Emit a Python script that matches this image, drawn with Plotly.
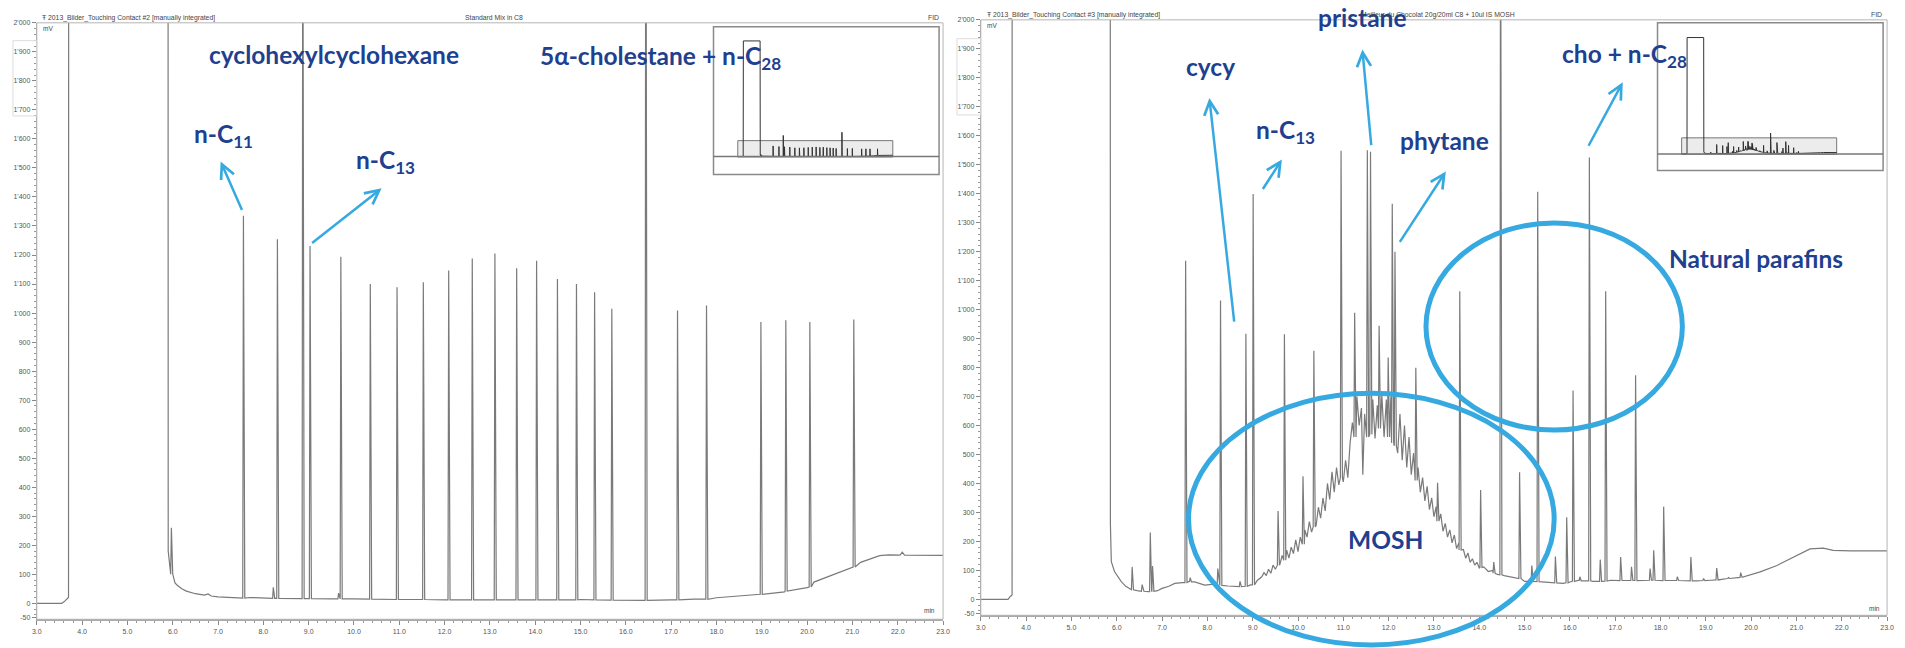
import plotly.graph_objects as go

# ---------------- DATA ----------------
# Left panel: "Standard Mix in C8" -- baseline knots (min, mV)
std_base_t = [3.00, 3.55, 3.60, 3.66, 3.70, 3.72, 5.88, 5.90, 5.93, 5.95, 6.00, 6.05, 6.10, 6.20,
              6.30, 6.50, 6.70, 6.78, 6.85, 7.00, 7.30, 7.50, 7.70, 8.00, 8.50, 9.00, 9.50, 10.0,
              11.0, 12.0, 13.0, 14.0, 15.0, 16.0, 17.0, 17.5, 18.0, 18.5, 19.0, 19.5, 20.0, 20.15,
              20.5, 21.0, 21.18, 21.4, 21.6, 21.8, 22.05, 22.1, 22.15, 23.0]
std_base_v = [0, 0, 5, 15, 20, 14500, 14500, 180, 120, 100, 85, 70, 62, 50,
              42, 33, 28, 32, 25, 22, 20, 18, 20, 18, 17, 16, 15, 15,
              13, 12, 12, 13, 13, 11, 12, 14, 19, 24, 31, 39, 54, 73,
              93, 122, 141, 152, 164, 167, 166, 176, 166, 165]
# Left panel peaks: retention time, apex height, foot level
std_peak_t = [5.97, 7.56, 8.22, 8.31, 8.87, 9.03, 9.66, 9.71, 10.36, 10.95, 11.53, 12.09, 12.61,
              13.11, 13.59, 14.03, 14.49, 14.91, 15.31, 15.69, 16.44, 17.14, 17.78, 18.98, 19.53,
              20.06, 21.03]
std_peak_h = [260, 1335, 55, 1254, 2650, 1231, 35, 1194, 1100, 1089, 1106, 1147, 1188,
              1205, 1154, 1180, 1117, 1100, 1072, 1015, 3050, 1009, 1026, 969, 975,
              969, 978]
std_peak_b = [100, 18, 17, 17, 16, 16, 15, 15, 14, 13, 13, 12, 12,
              12, 12, 12, 12, 12, 12, 11, 10, 12, 14, 31, 42,
              56, 125]

# Right panel: "Meilleur du Chocolat ... IS MOSH" -- baseline knots incl. MOSH hump
choc_base_t = [3.00, 3.60, 3.65, 3.69, 3.70, 5.84, 5.86, 5.88, 5.95, 6.10, 6.20, 6.32, 6.45, 6.60,
               6.70, 6.90, 7.00, 7.15, 7.28, 7.45, 7.60, 7.72, 7.85, 7.94, 8.10, 8.20, 8.45, 8.60,
               8.74, 8.95, 9.10,
               9.20, 9.25, 9.30, 9.35, 9.40, 9.45, 9.50, 9.55, 9.60, 9.65, 9.70, 9.75, 9.80, 9.85,
               9.90, 9.95, 10.00, 10.05, 10.10, 10.15, 10.20, 10.25, 10.30, 10.35, 10.40, 10.45,
               10.50, 10.55, 10.60, 10.65, 10.70, 10.75, 10.80, 10.85, 10.90, 10.95, 11.00, 11.05,
               11.10, 11.15, 11.20, 11.25, 11.30, 11.35, 11.40, 11.43, 11.47, 11.50, 11.55, 11.60,
               11.65, 11.70, 11.75, 11.80, 11.85, 11.90, 11.95, 12.00, 12.05, 12.10, 12.15, 12.20,
               12.25, 12.30, 12.35, 12.40, 12.45, 12.50, 12.55, 12.60, 12.65, 12.70, 12.75, 12.80,
               12.85, 12.90, 12.95, 13.00, 13.05, 13.10, 13.15, 13.20, 13.25, 13.30, 13.35, 13.40,
               13.45, 13.50, 13.55, 13.60, 13.65, 13.70, 13.75, 13.80, 13.85, 13.90, 13.95, 14.00,
               14.10, 14.20, 14.30, 14.40, 14.55, 14.70, 14.85, 15.00,
               15.10, 15.40, 15.60, 15.85, 16.00, 16.20, 16.50, 16.90, 17.30, 17.65, 18.00, 18.38,
               18.80, 19.11, 19.48, 19.84, 20.20, 20.57, 20.93, 21.30, 21.59, 21.81, 22.20, 23.00]
choc_base_v = [0, 0, 10, 15, 14500, 14500, 260, 130, 96, 61, 45, 35, 30, 28,
               27, 30, 38, 45, 55, 58, 62, 60, 55, 49, 52, 48, 46, 44,
               44, 50, 65,
               78, 92, 82, 104, 90, 118, 104, 132, 120, 152, 130, 170, 142, 180,
               158, 205, 165, 215, 195, 240, 215, 268, 232, 280, 255, 318,
               280, 350, 305, 400, 345, 440, 370, 455, 395, 470, 405, 480,
               420, 540, 610, 560, 700, 600, 660, 430, 640, 560, 700, 570,
               690, 555, 670, 590, 705, 560, 690, 550, 700, 520, 660, 505,
               640, 480, 600, 455, 560, 430, 505, 400, 455, 370, 420, 340,
               390, 310, 350, 285, 320, 262, 295, 235, 262, 215, 240, 195,
               222, 175, 195, 158, 172, 142, 160, 128, 140, 118, 128, 108,
               112, 96, 100, 86, 82, 77, 72, 62,
               62, 60, 57, 55, 60, 66, 62, 66, 65, 66, 64, 66,
               64, 66, 72, 78, 95, 117, 146, 174, 177, 169, 167, 167]
choc_peak_t = [6.34, 6.56, 6.74, 6.79, 7.52, 7.62, 8.23, 8.29, 8.72, 8.85, 9.01, 9.56, 9.70,
               10.11, 10.35, 10.95, 11.25, 11.53, 11.60, 11.79, 11.99, 12.08, 12.14, 12.60, 13.08,
               13.57, 14.03, 14.32, 14.47, 14.89, 15.16, 15.29, 15.68, 15.93, 16.07, 16.22, 16.43,
               16.67, 16.79, 17.12, 17.36, 17.45, 17.77, 17.85, 18.07, 18.37, 18.67, 18.95, 19.24,
               19.50, 19.77]
choc_peak_h = [112, 51, 231, 115, 1169, 75, 106, 1031, 62, 917, 1399, 305, 915,
               425, 858, 1548, 989, 1550, 1545, 944, 835, 1365, 1200, 799, 402,
               1063, 377, 129, 2600, 439, 117, 1407, 148, 283, 721, 78, 1525,
               137, 1063, 146, 112, 773, 106, 169, 320, 78, 146, 72, 108,
               75, 92]
choc_peak_b = [33, 28, 27, 28, 58, 60, 48, 48, 44, 45, 50, 118, 135,
               190, 250, 420, 560, 560, 570, 590, 560, 540, 530, 410, 270,
               170, 110, 90, 85, 72, 62, 61, 57, 57, 62, 64, 64,
               62, 63, 65, 65, 65, 66, 66, 65, 65, 64, 65, 67,
               72, 76]

y_tick_vals = [-50] + list(range(0, 2001, 100))
y_tick_text = ["-50"] + [("%d'%03d" % (v // 1000, v % 1000)) if v >= 1000 else str(v)
                         for v in range(0, 2001, 100)]
x_tick_vals = list(range(3, 24))
x_tick_text = ["%.1f" % v for v in x_tick_vals]


def build(bt, bv, pt, ph, pb, wl=0.015, wr=0.03):
    pts = []
    for t, v in zip(bt, bv):
        if not any(p - wl <= t <= p + wr for p in pt):
            pts.append((t, v))
    for t, h, b in zip(pt, ph, pb):
        pts += [(t - wl, b), (t, h), (t + wr, b)]
    pts.sort()
    return [p[0] for p in pts], [p[1] for p in pts]


sx, sy = build(std_base_t, std_base_v, std_peak_t, std_peak_h, std_peak_b)
cx, cy = build(choc_base_t, choc_base_v, choc_peak_t, choc_peak_h, choc_peak_b)

W, H = 1905, 648
def px(x): return x / W
def py(y): return 1 - y / H

fig = go.Figure()
line_main = dict(color="#7a7a7a", width=1.2)
fig.add_trace(go.Scatter(x=sx, y=sy, mode="lines", line=line_main, xaxis="x", yaxis="y", hoverinfo="skip"))
fig.add_trace(go.Scatter(x=cx, y=cy, mode="lines", line=line_main, xaxis="x2", yaxis="y2", hoverinfo="skip"))
line_inset = dict(color="#333333", width=1)
fig.add_trace(go.Scatter(x=sx, y=sy, mode="lines", line=line_inset, xaxis="x3", yaxis="y3", hoverinfo="skip"))
fig.add_trace(go.Scatter(x=cx, y=cy, mode="lines", line=line_inset, xaxis="x4", yaxis="y4", hoverinfo="skip"))

tickfont = dict(family="Liberation Sans", size=7, color="#555")

def xax(d0, d1, anchor):
    return dict(domain=[px(d0), px(d1)], range=[3, 23], anchor=anchor, tickmode="array",
                tickvals=x_tick_vals, ticktext=x_tick_text, ticks="outside", ticklen=4,
                tickcolor="#888", tickfont=tickfont, showline=True, linecolor="#aaaaaa",
                linewidth=2, showgrid=False, zeroline=False, fixedrange=True,
                minor=dict(dtick=0.2, tick0=3, ticks="outside", ticklen=2, tickcolor="#999", showgrid=False))

def yax(top, bot, anchor):
    return dict(domain=[py(bot), py(top)], range=[-55, 2000], anchor=anchor, tickmode="array",
                tickvals=y_tick_vals, ticktext=y_tick_text, ticks="outside", ticklen=4,
                tickcolor="#888", tickfont=tickfont, showline=True, linecolor="#aaaaaa",
                linewidth=1, showgrid=False, zeroline=False, fixedrange=True,
                minor=dict(dtick=20, tick0=0, ticks="outside", ticklen=2, tickcolor="#999", showgrid=False))

hid = dict(visible=False, showgrid=False, zeroline=False, fixedrange=True)
fig.update_layout(
    width=W, height=H, margin=dict(l=0, r=0, t=0, b=0),
    paper_bgcolor="white", plot_bgcolor="rgba(0,0,0,0)", showlegend=False,
    xaxis=xax(32, 944, "y"), yaxis=yax(19, 621, "x"),
    xaxis2=xax(982, 1894, "y2"), yaxis2=yax(16, 617, "x2"),
    xaxis3=dict(hid, domain=[px(713), px(940)], range=[-0.13, 28.97], anchor="y3"),
    yaxis3=dict(hid, domain=[py(172), py(23)], range=[-2236, 16273], anchor="x3"),
    xaxis4=dict(hid, domain=[px(1663), px(1890)], range=[-0.115, 28.99], anchor="y4"),
    yaxis4=dict(hid, domain=[py(168), py(19)], range=[-2062, 16333], anchor="x4"),
)

shapes = []
def prect(x0, y0, x1, y1, color, width, fill="rgba(0,0,0,0)", layer="above"):
    shapes.append(dict(type="rect", xref="paper", yref="paper", x0=px(x0), x1=px(x1),
                       y0=py(y1), y1=py(y0), line=dict(color=color, width=width),
                       fillcolor=fill, layer=layer))
# panel frames
prect(32, 19, 944, 621, "#b5b5b5", 1)
prect(982, 16, 1894, 617, "#b5b5b5", 1)
# little y-scroll boxes
prect(8, 37, 32, 113, "#dddddd", 1)
prect(958, 35, 982, 112, "#dddddd", 1)
# insets
for (bx0, by0, bx1, by1, xr, yr) in [(713, 23, 940, 172, "x3", "y3"), (1663, 19, 1890, 168, "x4", "y4")]:
    prect(bx0, by0, bx1, by1, "#8a8a8a", 1.5, fill="white", layer="below")
    shapes.append(dict(type="rect", xref=xr, yref=yr, x0=3, x1=23, y0=-50, y1=2000,
                       line=dict(color="#777", width=1), fillcolor="#ececec", layer="below"))
    shapes.append(dict(type="line", xref="paper", yref=yr, x0=px(bx0), x1=px(bx1), y0=0, y1=0,
                       line=dict(color="#777", width=1.5), layer="above"))
# ellipses
ell = "#36a9e1"
for (x0, y0, x1, y1) in [(1191, 393, 1559, 647), (1430, 221, 1688, 430)]:
    shapes.append(dict(type="circle", xref="paper", yref="paper", x0=px(x0), x1=px(x1),
                       y0=py(y1), y1=py(y0), line=dict(color=ell, width=5)))
fig.update_layout(shapes=shapes)

ann = []
blue = "#1f3f8f"
def label(text, x, y, size=24.5, anchor="left"):
    ann.append(dict(text=text, xref="paper", yref="paper", x=px(x), y=py(y), xanchor=anchor,
                    yanchor="middle", showarrow=False,
                    font=dict(family="Lato", size=size, color=blue, weight="bold")))
def small(text, x, y, anchor="left", size=6.8):
    ann.append(dict(text=text, xref="paper", yref="paper", x=px(x), y=py(y), xanchor=anchor,
                    yanchor="middle", showarrow=False,
                    font=dict(family="Liberation Sans", size=size, color="#444")))
def arrow(tx, ty, hx, hy):
    ann.append(dict(text="", xref="paper", yref="paper", x=px(hx), y=py(hy), axref="pixel",
                    ayref="pixel", ax=tx - hx, ay=ty - hy, showarrow=True, arrowhead=5,
                    arrowsize=1.1, arrowwidth=2.5, arrowcolor=ell, standoff=0, startstandoff=0))

label("cyclohexylcyclohexane", 203, 51)
label("n-C<sub>11</sub>", 188, 133)
label("n-C<sub>13</sub>", 351, 159)
label("5α-cholestane + n-C<sub>28</sub>", 536, 54)
label("cycy", 1186, 63)
label("n-C<sub>13</sub>", 1257, 129)
label("pristane", 1319, 14)
label("phytane", 1402, 138)
label("cho + n-C<sub>28</sub>", 1565, 52)
label("Natural parafins", 1673, 257)
label("MOSH", 1350, 540)

arrow(239, 209, 217, 159)
arrow(308, 242, 379, 186)
arrow(1237, 320, 1212, 95)
arrow(1265, 188, 1285, 157)
arrow(1375, 143, 1366, 46)
arrow(1403, 241, 1450, 169)
arrow(1593, 144, 1628, 79)

small("Ŧ 2013_Bilder_Touching Contact #2 [manually integrated]", 35, 14)
small("Standard Mix in C8", 492, 14, "center")
small("FID", 942, 14, "right")
small("Ŧ 2013_Bilder_Touching Contact #3 [manually integrated]", 986, 11)
small("Meilleur du Chocolat 20g/20ml C8 + 10ul IS MOSH", 1522, 11, "right")
small("FID", 1891, 11, "right")
small("mV", 36, 25, size=6.5)
small("mV", 986, 22, size=6.5)
small("min", 938, 612, "right", size=6.5)
small("min", 1889, 610, "right", size=6.5)
fig.update_layout(annotations=ann)

fig.write_html("out.html", config={"displayModeBar": False},
               post_script="document.body.style.margin='0';document.body.style.overflow='hidden';")
